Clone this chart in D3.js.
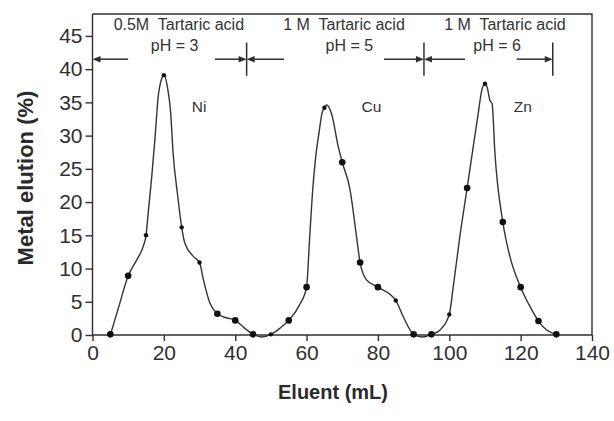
<!DOCTYPE html>
<html>
<head>
<meta charset="utf-8">
<script src="https://cdn.jsdelivr.net/npm/d3@7"></script>
<style>
  body { margin: 0; background: #fff; }
  svg { display: block; font-family: "Liberation Sans", Arial, sans-serif; }
  .axis text { font-size: 21px; fill: #2f2f2f; }
  .axis path, .axis line { stroke: #2f2f2f; stroke-width: 1.4; }
  .note { font-size: 16px; fill: #333; white-space: pre; }
</style>
</head>
<body>
<svg id="chart" width="614" height="421"></svg>
<script>
// elution curve (continuous trace through the three peaks)
const eluent = [5, 7.5, 10, 12.4, 14.2, 15, 15.6, 16.6, 17.5, 18.4, 19.4, 20, 21, 21.9, 22.6, 23.8, 25, 25.9, 28.3, 30,
  31.1, 32.9, 35, 37.5, 40, 42.7, 45, 47.5, 50, 52.5, 55, 58, 60, 60.8, 61.6, 62.5, 63.5, 64.3, 65, 65.6, 67, 68.9, 70,
  72.2, 74, 75, 76.8, 80, 85, 87.1, 90, 92.5, 95, 97.5, 100, 101.1, 103, 105, 106.7, 108.1, 109.1, 110, 110.6,
  111.4, 112, 112.8, 115, 117, 120, 122.6, 125, 127.3, 130];
const elution = [0, 4.5, 8.9, 11.3, 13.3, 15, 18.3, 23.8, 29.5, 35.8, 38.6, 39.1, 37.3, 33.5, 27.3, 21.3, 16.2, 13.8, 11.8, 10.9,
  8.3, 4.8, 3.2, 2.6, 2.2, 1.0, 0.1, -0.3, 0.1, 1.0, 2.2, 4.5, 7.2, 14, 21, 26.5, 30.5, 33.3, 34.2, 34.6, 33.3, 28.3, 26,
  21.8, 14.8, 10.9, 8.3, 7.2, 5.2, 2.75, 0.1, -0.3, 0.1, 0.8, 3.1, 7.2, 15, 22.1, 28.3, 33.3, 36.8, 37.8, 37.3,
  35.3, 34.8, 27.3, 17, 11.8, 7.2, 4.3, 2.1, 0.75, 0.1];

// measured points
const dotX = [5, 10, 35, 40, 45, 55, 60, 70, 75, 80, 90, 95, 105, 115, 120, 125, 130];
const dotY = [0.1, 8.9, 3.2, 2.2, 0.1, 2.2, 7.2, 26, 10.9, 7.2, 0.1, 0.1, 22.1, 17, 7.2, 2.1, 0.1];
const smallX = [15, 20, 25, 30, 50, 65, 85, 100, 110];
const smallY = [15, 39.1, 16.2, 10.9, 0.1, 34.2, 5.2, 3.1, 37.8];

const xTicks = [0, 20, 40, 60, 80, 100, 120, 140];
const yTicks = [0, 5, 10, 15, 20, 25, 30, 35, 40, 45];

// eluent regions
const bounds = [0, 43.2, 92.9, 129];
const acidText = ["0.5M  Tartaric acid", "1 M  Tartaric acid", "1 M  Tartaric acid"];
const phText = ["pH = 3", "pH = 5", "pH = 6"];
const acidX = [24.2, 70.5, 115.6];
const phX = [23, 72, 113.4];
const leftEnd = [10, 53.7, 104.4];
const rightStart = [34.3, 81.7, 118.9];
const metals = ["Ni", "Cu", "Zn"];
const metalX = [29.9, 78.2, 120.6];

const svg = d3.select("#chart");
const x = d3.scaleLinear().domain([0, 140]).range([92.5, 592]);
const y = d3.scaleLinear().domain([0, 48.3]).range([335, 14]);
const ink = "#2f2f2f";

// frame (top and right)
svg.append("path")
  .attr("d", `M${x(0)},${y(48.3)}H${x(140)}V${y(0)}`)
  .attr("fill", "none").attr("stroke", ink).attr("stroke-width", 1.4);

svg.append("g").attr("class", "axis")
  .attr("transform", `translate(0,${y(0)})`)
  .call(d3.axisBottom(x).tickValues(xTicks).tickSize(6).tickPadding(4).tickSizeOuter(0))
  .call(g => g.select(".domain").attr("d", `M${x(0)},0H${x(140)}`));

svg.append("g").attr("class", "axis")
  .attr("transform", `translate(${x(0)},0)`)
  .call(d3.axisLeft(y).tickValues(yTicks).tickSize(7).tickPadding(3).tickSizeOuter(0))
  .call(g => g.select(".domain").attr("d", `M0,${y(48.3)}V${y(0)}`));

// curve
const pts = eluent.map((e, i) => [e, elution[i]]);
svg.append("path")
  .datum(pts)
  .attr("fill", "none")
  .attr("stroke", "#333")
  .attr("stroke-width", 1.4)
  .attr("d", d3.line().x(d => x(d[0])).y(d => y(d[1])).curve(d3.curveMonotoneX));

svg.selectAll(".dot").data(dotX).join("circle")
  .attr("class", "dot")
  .attr("cx", d => x(d)).attr("cy", (d, i) => y(dotY[i]))
  .attr("r", 3.3).attr("fill", "#111");

svg.selectAll(".sdot").data(smallX).join("circle")
  .attr("class", "sdot")
  .attr("cx", d => x(d)).attr("cy", (d, i) => y(smallY[i]))
  .attr("r", 2.2).attr("fill", "#111");

// region annotations
const arrowY = y(41.5);
function arrow(x1, x2) {
  // line from x1 to head at x2
  const dir = x2 > x1 ? 1 : -1;
  svg.append("line")
    .attr("x1", x(x1)).attr("x2", x(x2) - dir * 6)
    .attr("y1", arrowY).attr("y2", arrowY)
    .attr("stroke", ink).attr("stroke-width", 1.5);
  svg.append("path")
    .attr("d", `M${x(x2)},${arrowY}L${x(x2) - dir * 8},${arrowY - 3.2}L${x(x2) - dir * 8},${arrowY + 3.2}Z`)
    .attr("fill", ink);
}

for (let i = 0; i < 3; i++) {
  arrow(leftEnd[i], bounds[i]);
  arrow(rightStart[i], bounds[i + 1]);
  svg.append("text").attr("class", "note")
    .attr("x", x(acidX[i])).attr("y", 30).attr("text-anchor", "middle")
    .text(acidText[i]);
  svg.append("text").attr("class", "note")
    .attr("x", x(phX[i])).attr("y", 51).attr("text-anchor", "middle")
    .text(phText[i]);
  svg.append("text").attr("class", "note")
    .attr("x", x(metalX[i])).attr("y", 112).attr("text-anchor", "middle")
    .style("font-size", "15.5px")
    .text(metals[i]);
}
bounds.slice(1).forEach(b => {
  svg.append("line")
    .attr("x1", x(b)).attr("x2", x(b))
    .attr("y1", y(44)).attr("y2", y(39))
    .attr("stroke", ink).attr("stroke-width", 1.5);
});

// axis titles
svg.append("text")
  .attr("x", 333).attr("y", 399)
  .attr("text-anchor", "middle")
  .style("font-size", "20px").style("font-weight", "bold").attr("fill", "#2a2a2a")
  .text("Eluent (mL)");

svg.append("text")
  .attr("transform", `translate(33,178) rotate(-90)`)
  .attr("text-anchor", "middle")
  .style("font-size", "22px").style("font-weight", "bold").attr("fill", "#2a2a2a")
  .text("Metal elution (%)");
</script>
</body>
</html>
